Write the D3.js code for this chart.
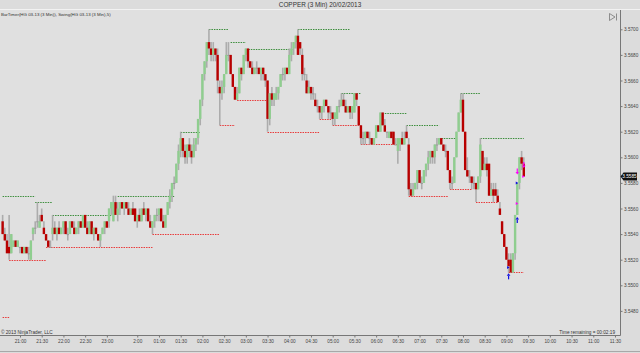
<!DOCTYPE html>
<html><head><meta charset="utf-8">
<script src="https://cdn.jsdelivr.net/npm/d3@7"></script>
<style>
html,body{margin:0;padding:0;background:#dcdcdc;}
svg{display:block;font-family:Arial,"Liberation Sans",sans-serif;}
</style></head><body>
<svg id="c" width="640" height="353"></svg>
<script>
// ---- DATA (3-min bars, HG 03-13) ----
const opens=[3.555,3.554,3.5535,3.553,3.5525,3.553,3.5535,3.553,3.553,3.553,
3.5525,3.553,3.5525,3.552,3.554,3.5545,3.555,3.5545,3.5555,3.5545,
3.554,3.5535,3.553,3.554,3.5545,3.554,3.5545,3.554,3.5545,3.555,
3.554,3.554,3.555,3.5545,3.554,3.5545,3.555,3.5545,3.5555,3.5545,
3.554,3.555,3.554,3.5545,3.554,3.5535,3.554,3.5545,3.555,3.555,
3.556,3.555,3.5565,3.5555,3.556,3.5565,3.556,3.5565,3.556,3.5555,
3.556,3.556,3.555,3.5555,3.555,3.556,3.5555,3.556,3.555,3.5545,
3.555,3.5555,3.5555,3.556,3.555,3.5545,3.5555,3.5565,3.557,3.558,
3.558,3.5595,3.5605,3.5615,3.5605,3.56,3.561,3.5605,3.56,3.561,
3.5615,3.563,3.5645,3.5665,3.5675,3.569,3.5685,3.568,3.5685,3.568,
3.5655,3.565,3.5655,3.5665,3.568,3.568,3.5665,3.5655,3.5645,3.565,
3.567,3.5665,3.568,3.5685,3.5675,3.567,3.5665,3.567,3.567,3.5665,
3.567,3.5665,3.566,3.563,3.565,3.5645,3.5645,3.565,3.5655,3.5665,
3.5665,3.567,3.5665,3.568,3.5685,3.569,3.5695,3.569,3.568,3.5665,
3.566,3.565,3.5655,3.565,3.5645,3.564,3.564,3.5635,3.564,3.5645,
3.564,3.5635,3.5635,3.563,3.563,3.564,3.564,3.5645,3.564,3.5635,
3.564,3.5635,3.5635,3.565,3.564,3.5625,3.5615,3.5615,3.562,3.5615,
3.5615,3.561,3.5615,3.5625,3.562,3.5635,3.5625,3.562,3.5615,3.562,
3.562,3.561,3.5605,3.561,3.5615,3.561,3.562,3.561,3.5575,3.557,
3.5575,3.558,3.559,3.558,3.558,3.559,3.5595,3.56,3.5605,3.56,
3.561,3.561,3.5615,3.561,3.5605,3.5605,3.559,3.558,3.558,3.56,
3.562,3.5635,3.5645,3.562,3.559,3.5585,3.5585,3.558,3.558,3.5575,
3.5585,3.5605,3.559,3.5595,3.5595,3.557,3.5575,3.5575,3.557,3.556,
3.555,3.554,3.553,3.552,3.552,3.551,3.5525,3.5555,3.558,3.56,3.5595];
const highs=[3.5555,3.5545,3.554,3.5555,3.554,3.5535,3.5535,3.5535,3.553,3.553,
3.553,3.553,3.553,3.5535,3.5545,3.555,3.5565,3.5555,3.556,3.555,
3.554,3.5535,3.5535,3.5555,3.555,3.5545,3.555,3.5545,3.555,3.555,
3.5545,3.555,3.555,3.555,3.5545,3.555,3.555,3.5555,3.5555,3.555,
3.555,3.555,3.5545,3.5545,3.554,3.554,3.5545,3.555,3.555,3.556,
3.5565,3.557,3.557,3.5565,3.5565,3.5565,3.5565,3.5565,3.5565,3.556,
3.5565,3.556,3.5555,3.556,3.556,3.5565,3.556,3.556,3.5555,3.555,
3.5555,3.556,3.556,3.556,3.5555,3.5555,3.5565,3.5575,3.558,3.5585,
3.5595,3.561,3.562,3.5615,3.561,3.561,3.5615,3.561,3.5615,3.5615,
3.563,3.5645,3.5665,3.5675,3.569,3.57,3.569,3.569,3.5685,3.5685,
3.566,3.566,3.5665,3.569,3.569,3.568,3.5665,3.5655,3.5655,3.567,
3.567,3.568,3.5685,3.5685,3.5675,3.5675,3.567,3.5675,3.567,3.567,
3.567,3.5665,3.566,3.565,3.5655,3.565,3.5655,3.5655,3.5665,3.567,
3.567,3.567,3.5685,3.569,3.569,3.5695,3.57,3.569,3.5685,3.567,
3.5665,3.566,3.5655,3.5655,3.565,3.5645,3.564,3.564,3.5645,3.5645,
3.564,3.564,3.5635,3.5635,3.564,3.5645,3.565,3.565,3.5645,3.564,
3.564,3.564,3.565,3.565,3.564,3.5625,3.562,3.562,3.562,3.562,
3.5615,3.5615,3.5625,3.5625,3.5635,3.5635,3.563,3.562,3.562,3.562,
3.562,3.5615,3.5615,3.5615,3.562,3.562,3.5625,3.5615,3.558,3.558,
3.558,3.559,3.559,3.5585,3.559,3.5595,3.5605,3.5605,3.5605,3.561,
3.5615,3.5615,3.5615,3.561,3.561,3.5605,3.559,3.5585,3.56,3.562,
3.5635,3.565,3.565,3.562,3.56,3.559,3.5585,3.5585,3.558,3.5585,
3.5615,3.5605,3.56,3.56,3.5595,3.558,3.558,3.558,3.5575,3.5565,
3.555,3.554,3.553,3.5525,3.5525,3.5525,3.5555,3.558,3.56,3.5605,3.56];
const lows=[3.554,3.5535,3.5525,3.552,3.5525,3.553,3.553,3.553,3.5525,3.5525,
3.5525,3.5525,3.552,3.552,3.5535,3.554,3.5545,3.5545,3.555,3.554,
3.5535,3.553,3.553,3.5535,3.554,3.5535,3.554,3.554,3.554,3.554,
3.5535,3.554,3.5545,3.554,3.554,3.554,3.5545,3.5545,3.5545,3.554,
3.554,3.554,3.5535,3.554,3.5535,3.553,3.554,3.554,3.5545,3.5545,
3.5555,3.555,3.5555,3.555,3.5555,3.556,3.5555,3.556,3.5555,3.5555,
3.5555,3.555,3.5545,3.555,3.555,3.5555,3.555,3.555,3.5545,3.554,
3.5545,3.555,3.555,3.555,3.5545,3.5545,3.5555,3.556,3.5565,3.5575,
3.558,3.559,3.56,3.56,3.5595,3.5595,3.56,3.5595,3.56,3.5605,
3.561,3.5625,3.564,3.566,3.567,3.568,3.5675,3.5675,3.5675,3.565,
3.5625,3.5645,3.565,3.5665,3.5675,3.5665,3.5655,3.5645,3.5645,3.565,
3.566,3.5665,3.5675,3.567,3.567,3.5665,3.5665,3.5665,3.5665,3.566,
3.566,3.5655,3.562,3.5625,3.564,3.564,3.5645,3.5645,3.5655,3.566,
3.566,3.5665,3.5665,3.5675,3.568,3.5685,3.568,3.568,3.566,3.566,
3.565,3.565,3.5645,3.5645,3.564,3.5635,3.563,3.563,3.5635,3.564,
3.563,3.563,3.5625,3.5625,3.563,3.5635,3.564,3.564,3.5635,3.5635,
3.563,3.563,3.5635,3.564,3.5625,3.561,3.561,3.561,3.5615,3.561,
3.561,3.561,3.5615,3.562,3.562,3.5625,3.562,3.5615,3.5615,3.5615,
3.561,3.561,3.5595,3.5605,3.561,3.561,3.5615,3.557,3.557,3.557,
3.5575,3.5575,3.558,3.5575,3.558,3.5585,3.559,3.5595,3.5595,3.5595,
3.5605,3.561,3.561,3.5605,3.56,3.559,3.5575,3.5575,3.558,3.56,
3.562,3.5635,3.562,3.559,3.5585,3.558,3.5575,3.5575,3.5565,3.5575,
3.558,3.559,3.559,3.5585,3.557,3.557,3.5565,3.557,3.5565,3.5555,
3.554,3.553,3.552,3.551,3.551,3.551,3.552,3.5555,3.5575,3.559,3.5585];
const closes=[3.554,3.5535,3.5525,3.5525,3.554,3.5535,3.553,3.5535,3.553,3.5525,
3.553,3.5525,3.5525,3.5535,3.5545,3.5545,3.555,3.555,3.555,3.554,
3.5535,3.553,3.553,3.5545,3.554,3.5545,3.554,3.5545,3.555,3.554,
3.554,3.555,3.5545,3.554,3.5545,3.555,3.5545,3.5555,3.5545,3.554,
3.555,3.554,3.5545,3.554,3.5535,3.554,3.5545,3.555,3.5545,3.556,
3.5565,3.5565,3.5555,3.556,3.5565,3.556,3.5565,3.556,3.5555,3.556,
3.5555,3.555,3.5555,3.555,3.556,3.5555,3.556,3.555,3.5545,3.555,
3.5555,3.5555,3.556,3.555,3.5545,3.5555,3.5565,3.557,3.558,3.558,
3.5595,3.5605,3.5615,3.5605,3.56,3.561,3.5605,3.56,3.561,3.5615,
3.563,3.5645,3.5665,3.5675,3.569,3.5685,3.568,3.5685,3.568,3.566,
3.565,3.5655,3.5665,3.568,3.568,3.5665,3.5655,3.5645,3.565,3.567,
3.5665,3.568,3.5685,3.5675,3.567,3.5665,3.567,3.567,3.5665,3.567,
3.5665,3.566,3.563,3.565,3.5645,3.565,3.565,3.5655,3.5665,3.5665,
3.567,3.5665,3.568,3.5685,3.569,3.5695,3.568,3.5685,3.5665,3.5665,
3.565,3.5655,3.565,3.565,3.564,3.564,3.5635,3.564,3.5645,3.564,
3.5635,3.5635,3.563,3.5635,3.564,3.564,3.5645,3.564,3.5635,3.564,
3.5635,3.564,3.565,3.5645,3.5625,3.5615,3.5615,3.562,3.5615,3.5615,
3.561,3.5615,3.5625,3.562,3.5635,3.5625,3.562,3.562,3.562,3.5615,
3.561,3.561,3.5615,3.5615,3.561,3.5615,3.5615,3.5575,3.557,3.5575,
3.558,3.559,3.558,3.558,3.559,3.5595,3.56,3.5605,3.56,3.561,
3.561,3.5615,3.561,3.5605,3.5605,3.559,3.558,3.558,3.56,3.562,
3.5635,3.5645,3.562,3.559,3.5585,3.5585,3.558,3.558,3.5575,3.5585,
3.561,3.559,3.5595,3.559,3.557,3.5575,3.557,3.557,3.5565,3.5555,
3.554,3.553,3.552,3.5515,3.551,3.5525,3.5555,3.558,3.56,3.5595,3.5585];

// swing indicator levels (bar index from / to, price)
const swingHighFrom=[0,15,23,53,82,95,105,112,136,156,176,186,202,211,220];
const swingHighTo=[15,23,50,79,91,104,112,134,160,165,186,201,209,220,240];
const swingHighPrice=[3.557,3.5565,3.5555,3.557,3.562,3.57,3.569,3.5685,3.57,3.565,3.5635,3.5625,3.5615,3.565,3.5615];
const swingLowFrom=[0,3,20,69,100,108,122,146,152,165,187,206,218,233];
const swingLowTo=[3,20,69,100,107,122,146,152,165,182,205,216,228,240];
const swingLowPrice=[3.5475,3.552,3.553,3.554,3.5625,3.5645,3.562,3.563,3.5625,3.561,3.557,3.5575,3.5565,3.551];

// trade markers
const markerBar=[233,233,237,237,237,237,240,240];
const markerPrice=[3.5514,3.5507,3.5551,3.5580,3.5564,3.5589,3.5594,3.5585];
const markerKind=["buyTick","buyArrow","buyArrow","buyTick","sellTick","sellArrow","sellArrow","sellTick"];

// axes
const xTickBars=[8,18,28,38,48,62,72,82,92,102,112,122,132,142,152,162,172,182,192,202,212,222,232,242,252,262,272,282];
const xTickLabels=["21:00","21:30","22:00","22:30","23:00","2:00","01:00","01:30","02:00","02:30","03:00","03:30","04:00","04:30","05:00","05:30","06:00","06:30","07:00","07:30","08:00","08:30","09:00","09:30","10:00","10:30","11:00","11:30"];
const yTicks=[3.548,3.550,3.552,3.554,3.556,3.558,3.560,3.562,3.564,3.566,3.568,3.570];
const lastPrice=3.5585;
const titleText="COPPER (3 Min)  20/02/2013";
const indicatorText="BarTimer(HG 03-13 (3 Min)), Swing(HG 03-13 (3 Min),5)";
const copyrightText="© 2013 NinjaTrader, LLC";
const timerText="Time remaining = 00:02:19";

// ---- DRAW ----
const svg=d3.select("#c");
const P={left:0,right:620.5,top:10,bottom:335.5};
const x=d3.scaleLinear().domain([0,240]).range([2.63,523.79]);
const y=d3.scaleLinear().domain([3.548,3.570]).range([310.9,29.3]);
const fs=4.7;

svg.append("rect").attr("width",640).attr("height",353).attr("fill","#dcdcdc");
svg.append("rect").attr("x",0).attr("y",P.top).attr("width",P.right).attr("height",P.bottom-P.top).attr("fill","#e0e0e0");
svg.append("line").attr("x1",0).attr("x2",640).attr("y1",9.5).attr("y2",9.5).attr("stroke","#f2f2f2");
svg.append("line").attr("x1",0).attr("x2",640).attr("y1",351.5).attr("y2",351.5).attr("stroke","#a8a8a8");

svg.append("text").attr("x",320).attr("y",7).attr("text-anchor","middle").attr("font-size",6.4).attr("fill","#333").text(titleText);
svg.append("text").attr("x",1).attr("y",15.8).attr("font-size",fs-0.3).attr("fill","#333").text(indicatorText);

// swing lines
const sw=svg.append("g");
sw.selectAll(".sh").data(swingHighPrice).join("line")
  .attr("x1",(d,i)=>x(swingHighFrom[i])).attr("x2",(d,i)=>x(swingHighTo[i]))
  .attr("y1",d=>Math.round(y(d))+0.5).attr("y2",d=>Math.round(y(d))+0.5)
  .attr("stroke","#3d8f3d").attr("stroke-width",1).attr("stroke-dasharray","1.5,1");
sw.selectAll(".sl").data(swingLowPrice).join("line")
  .attr("x1",(d,i)=>x(swingLowFrom[i])).attr("x2",(d,i)=>x(swingLowTo[i]))
  .attr("y1",d=>Math.round(y(d))+0.5).attr("y2",d=>Math.round(y(d))+0.5)
  .attr("stroke","#e83a3a").attr("stroke-width",1).attr("stroke-dasharray","1.5,1");

// candles
const bars=d3.range(opens.length);
const cg=svg.append("g");
cg.selectAll(".w").data(bars).join("line")
  .attr("x1",i=>x(i)).attr("x2",i=>x(i)).attr("y1",i=>y(highs[i])).attr("y2",i=>y(lows[i]))
  .attr("stroke","#acacac").attr("stroke-width",1.6);
cg.selectAll(".b").data(bars).join("rect")
  .attr("x",i=>x(i)-1.2).attr("width",2.4)
  .attr("y",i=>y(Math.max(opens[i],closes[i])))
  .attr("height",i=>Math.max(1,Math.abs(y(opens[i])-y(closes[i]))))
  .attr("fill",i=>closes[i]>opens[i]?"#8fce8f":closes[i]<opens[i]?"#b80000":"#9a9a9a");

// markers
const mg=svg.append("g");
markerKind.forEach((k,i)=>{
  const mx=x(markerBar[i]), my=y(markerPrice[i]);
  const col=k.startsWith("buy")?"#1010e0":"#ff00ff";
  if(k.endsWith("Arrow")){
    const up=k.startsWith("buy");
    const dir=up?-1:1;
    mg.append("path").attr("d",`M${mx},${my+dir*3} L${mx-1.8},${my+dir*0.5} L${mx+1.8},${my+dir*0.5} Z`).attr("fill",col);
    mg.append("line").attr("x1",mx).attr("x2",mx).attr("y1",my+dir*0.5).attr("y2",my-dir*3).attr("stroke",col).attr("stroke-width",1.2);
  } else {
    mg.append("path").attr("d",`M${mx-1.5},${my-1.5} L${mx+1},${my} L${mx-1.5},${my+1.5} Z`).attr("fill",col);
  }
});

// axes
const ya=svg.append("g").attr("transform",`translate(${P.right},0)`)
  .call(d3.axisRight(y).tickValues(yTicks).tickFormat(d3.format(".4f")).tickSize(2).tickPadding(1.5));
ya.select(".domain").attr("d",`M0,${P.top}V${P.bottom}`).attr("stroke","#777");
ya.selectAll("text").attr("font-size",fs).attr("fill","#444");
ya.selectAll(".tick line").attr("stroke","#777");

const xa=svg.append("g").attr("transform",`translate(0,${P.bottom})`)
  .call(d3.axisBottom(x).tickValues(xTickBars).tickFormat((d,i)=>xTickLabels[i]).tickSize(2).tickPadding(2));
xa.select(".domain").attr("d",`M0,0H${P.right}`).attr("stroke","#777");
xa.selectAll("text").attr("font-size",fs).attr("fill","#444");
xa.selectAll(".tick line").attr("stroke","#777");

// current price box
const py=y(lastPrice);
svg.append("path").attr("d",`M${P.right},${py} L${P.right+3},${py-4} H637 V${py+4} H${P.right+3} Z`).attr("fill","#111");
svg.append("text").attr("x",629.5).attr("y",py).attr("dy","0.35em").attr("text-anchor","middle").attr("font-size",fs).attr("fill","#fff").text(d3.format(".4f")(lastPrice));

// bottom texts
svg.append("text").attr("x",1).attr("y",334).attr("font-size",fs).attr("fill","#333").text(copyrightText);
svg.append("text").attr("x",615).attr("y",333.5).attr("text-anchor","end").attr("font-size",fs).attr("fill","#333").text(timerText);

// play-to-end icon
svg.append("path").attr("d","M609.5,13.5 L615,17 L609.5,20.5 Z M616.5,13.5 V20.5").attr("fill","none").attr("stroke","#777").attr("stroke-width",0.8);
</script>
</body></html>
